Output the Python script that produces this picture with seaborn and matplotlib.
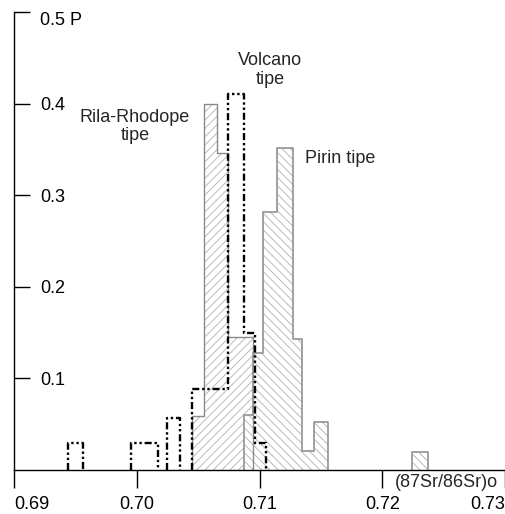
import matplotlib
matplotlib.use("Agg")
import matplotlib.pyplot as plt
import seaborn as sns

# ---- data (bin edges in (87Sr/86Sr)o, heights as frequency P) ----
rila_edges = [0.7045, 0.7055, 0.7065, 0.7074, 0.7095]
rila_heights = [0.059, 0.400, 0.346, 0.145]

volcano_edges = [0.6944, 0.6956, 0.6995, 0.7017, 0.7025, 0.7035, 0.7045,
                 0.7074, 0.7087, 0.7096, 0.7105]
volcano_heights = [0.030, 0.0, 0.030, 0.0, 0.057, 0.0, 0.088, 0.410, 0.150, 0.030]

pirin_edges = [0.7087, 0.7095, 0.7103, 0.7114, 0.7127, 0.7135, 0.7144,
               0.7156, 0.7224, 0.7237]
pirin_heights = [0.060, 0.128, 0.282, 0.351, 0.143, 0.021, 0.052, 0.0, 0.020]

x_ticks = [0.69, 0.70, 0.71, 0.72, 0.73]
x_ticklabels = ["0.69", "0.70", "0.71", "0.72", "0.73"]
y_ticks = [0.1, 0.2, 0.3, 0.4, 0.5]
y_ticklabels = ["0.1", "0.2", "0.3", "0.4", "0.5 P"]

sns.set_style("white")
plt.rcParams["font.family"] = ["Liberation Sans", "DejaVu Sans"]
plt.rcParams["hatch.linewidth"] = 0.6

fig = plt.figure(figsize=(5.06, 5.14), dpi=100)
ax = fig.add_axes([14 / 506, 44 / 514, 491 / 506, 458 / 514])


def groups(edges, heights):
    """Split into runs of consecutive non-empty bins."""
    out, cur_e, cur_h = [], [], []
    for i, h in enumerate(heights):
        if h > 0:
            if not cur_e:
                cur_e = [edges[i]]
            cur_e.append(edges[i + 1])
            cur_h.append(h)
        elif cur_e:
            out.append((cur_e, cur_h))
            cur_e, cur_h = [], []
    if cur_e:
        out.append((cur_e, cur_h))
    return out


def draw(edges, heights, fill_kws=None, line_kws=None):
    tiny = 1e-7
    for e, h in groups(edges, heights):
        e2 = [e[0] - tiny] + e + [e[-1] + tiny]
        h2 = [0.0] + h + [0.0]
        centers = [(a + b) / 2 for a, b in zip(e2[:-1], e2[1:])]
        if fill_kws is not None:
            sns.histplot(x=centers, weights=h2, bins=e2, element="step",
                         fill=True, ax=ax, **fill_kws)
        if line_kws is not None:
            sns.histplot(x=centers, weights=h2, bins=e2, element="step",
                         fill=False, ax=ax, **line_kws)


draw(rila_edges, rila_heights,
     fill_kws=dict(facecolor="white", edgecolor="#b0b0b0", linewidth=0,
                   hatch="////", zorder=1),
     line_kws=dict(color="#8a8a8a", linewidth=1.0, zorder=2))
draw(pirin_edges, pirin_heights,
     fill_kws=dict(facecolor="white", edgecolor="#b0b0b0", linewidth=0,
                   hatch="\\\\\\\\", zorder=1),
     line_kws=dict(color="#9a9a9a", linewidth=1.3, zorder=2))
draw(volcano_edges, volcano_heights,
     line_kws=dict(color="black", linewidth=1.7,
                   linestyle=(0, (3, 1.2, 1, 1.2, 1, 1.2)), zorder=3))

ax.set_xlim(0.69, 0.73)
ax.set_ylim(0, 0.5)

for s in ["top", "right"]:
    ax.spines[s].set_visible(False)
for s in ["left", "bottom"]:
    ax.spines[s].set_color("black")
    ax.spines[s].set_linewidth(1.0)

ax.set_xticks(x_ticks)
ax.set_xticklabels(x_ticklabels)
ax.set_yticks(y_ticks)
ax.set_yticklabels(y_ticklabels)
ax.tick_params(axis="x", bottom=True, direction="out", length=13, width=1,
               pad=6, labelsize=13, colors="black")
ax.tick_params(axis="y", left=True, direction="in", length=11.5, width=1,
               pad=-18.7, labelsize=13, colors="black")
for lab in ax.get_yticklabels():
    lab.set_horizontalalignment("left")
ax.get_yticklabels()[-1].set_verticalalignment("top")
xl = ax.get_xticklabels()
xl[0].set_horizontalalignment("left")
xl[-1].set_horizontalalignment("right")

ax.set_ylabel("")
ax.set_xlabel("(87Sr/86Sr)o", fontsize=13, ha="right", va="center")
ax.xaxis.set_label_coords(0.986, -0.028)

ax.text(0.69986, 0.375, "Rila-Rhodope\ntipe", fontsize=13, ha="center",
        va="center", linespacing=1.15)
ax.text(0.71086, 0.437, "Volcano\ntipe", fontsize=13, ha="center",
        va="center", linespacing=1.15)
ax.text(0.71371, 0.340, "Pirin tipe", fontsize=13, ha="left", va="center")

fig.savefig("out.png", dpi=100)
